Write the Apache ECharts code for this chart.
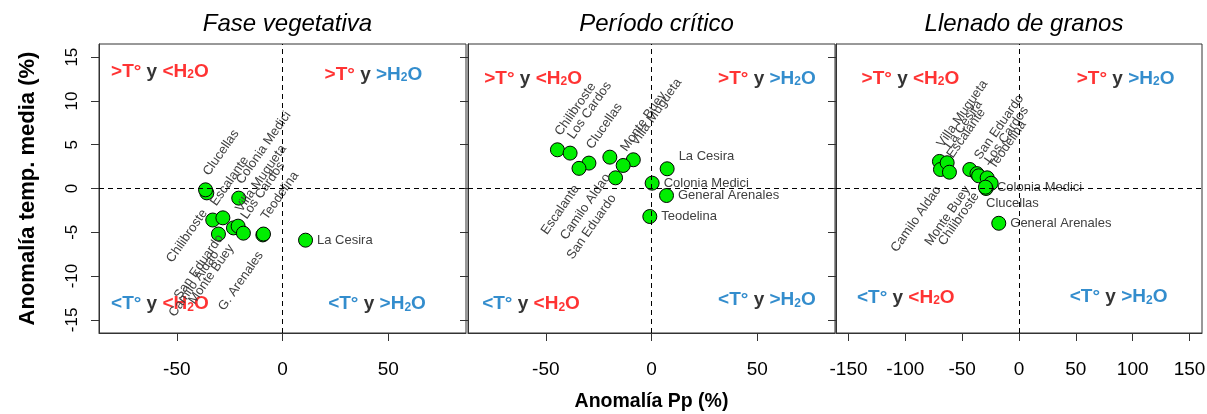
<!DOCTYPE html>
<html><head><meta charset="utf-8">
<script src="https://cdn.jsdelivr.net/npm/echarts@6/dist/echarts.min.js"></script>
<style>html,body{margin:0;padding:0;background:#fff}#c{width:1207px;height:414px}</style>
</head><body><div id="c"></div>
<script>
// ---------- data ----------
const panelTitles = ['Fase vegetativa', 'Período crítico', 'Llenado de granos'];
const yTicks = [-15, -10, -5, 0, 5, 10, 15];
const xTicks1 = [-50, 0, 50];
const xTicks2 = [-50, 0, 50];
const xTicks3 = [-150, -100, -50, 0, 50, 100, 150];

// Fase vegetativa
const names1 = ['Chilibroste','Clucellas','Colonia Medici','Escalante','San Eduardo','Camilo Aldao','Monte Buey','Villa Mugueta','Los Cardos','G. Arenales','Teodelina','La Cesira'];
const pp1    = [-35.8, -36.4, -20.7, -33.0, -28.2, -30.3, -23.2, -21.0, -18.5, -9.3, -9.0, 10.9];
const temp1  = [-0.5, -0.15, -1.1, -3.6, -3.35, -5.2, -4.5, -4.3, -5.1, -5.3, -5.2, -5.9];
const dir1   = ['down','up','up','up','down','down','down','up','up','down','up','right'];

// Período crítico
const names2 = ['Chilibroste','Los Cardos','Clucellas','Escalante','Camilo Aldao','Villa Mugueta','Monte Buey','San Eduardo','Colonia Medici','La Cesira','General Arenales','Teodelina'];
const pp2    = [-44.5, -38.5, -29.6, -34.3, -19.7, -8.6, -13.4, -17.0, 0.3, 7.4, 7.1, -0.8];
const temp2  = [4.42, 4.04, 2.9, 2.3, 3.58, 3.28, 2.63, 1.22, 0.61, 2.25, -0.8, -3.2];
const dir2   = ['up','up','up','down','down','up','up','down','right','rightUp','right','right'];

// Llenado de granos
const names3 = ['Villa Mugueta','Camilo Aldao','La Cesira','Escalante','Monte Buey','San Eduardo','Chilibroste','Los Cardos','Teodelina','Clucellas','Colonia Medici','General Arenales'];
const pp3    = [-70.0, -69.1, -63.2, -61.2, -43.3, -37.0, -35.5, -28.0, -24.5, -29.0, -29.5, -17.8];
const temp3  = [3.09, 2.17, 2.94, 1.86, 2.17, 1.7, 1.45, 1.22, 0.6, 0.0, 0.15, -3.97];
const dir3   = ['up','down','up','up','down','up','down','up','up','below','right','right'];

// quadrant annotations (TL, TR, BL, BR) in data coordinates
const quadText = [
  '{r|>T°} {k|y} {r|<H}{rs|2}{r|O}',
  '{r|>T°} {k|y} {b|>H}{bs|2}{b|O}',
  '{b|<T°} {k|y} {r|<H}{rs|2}{r|O}',
  '{b|<T°} {k|y} {b|>H}{bs|2}{b|O}'
];
const quadPos1 = [[-58, 13.4], [43, 13.1], [-58, -13.1], [44.7, -13.1]];
const quadPos2 = [[-56, 12.6], [54.6, 12.6], [-57, -13.1], [54.6, -12.7]];
const quadPos3 = [[-95.5, 12.6], [93.8, 12.6], [-99.6, -12.4], [87.6, -12.3]];

// ---------- layout / style ----------
const F = '"Liberation Sans", Arial, sans-serif';
const grids = [
  {left: 99, top: 44, width: 367, height: 289},
  {left: 468, top: 44, width: 367, height: 289},
  {left: 836, top: 44, width: 366, height: 289}
];
const xRange = [86.8, 86.8, 161];
const yRange = 16.5;
const panels = [
  {names: names1, pp: pp1, temp: temp1, dir: dir1, ticks: xTicks1, quad: quadPos1},
  {names: names2, pp: pp2, temp: temp2, dir: dir2, ticks: xTicks2, quad: quadPos2},
  {names: names3, pp: pp3, temp: temp3, dir: dir3, ticks: xTicks3, quad: quadPos3}
];

function labelFor(d) {
  const base = {show: true, formatter: '{b}', color: '#404040', fontSize: 13, fontFamily: F};
  if (d === 'up') return Object.assign(base, {position: 'inside', align: 'left', verticalAlign: 'bottom', rotate: 55, padding: [0, 0, 2, 13]});
  if (d === 'down') return Object.assign(base, {position: 'inside', align: 'right', verticalAlign: 'top', rotate: 55, padding: [2, 16, 0, 0]});
  if (d === 'rightUp') return Object.assign(base, {position: 'right', distance: 4, offset: [0, -12]});
  if (d === 'below') return Object.assign(base, {position: 'bottom', align: 'left', distance: 1});
  return Object.assign(base, {position: 'right', distance: 4});
}

const qs = 19;
const rich = {
  r: {color: '#ff0000', fontWeight: 'bold', fontSize: qs, fontFamily: F, lineHeight: 20, verticalAlign: 'bottom'},
  b: {color: '#0070c0', fontWeight: 'bold', fontSize: qs, fontFamily: F, lineHeight: 20, verticalAlign: 'bottom'},
  k: {color: '#000000', fontWeight: 'bold', fontSize: qs, fontFamily: F, lineHeight: 20, verticalAlign: 'bottom'},
  rs: {color: '#ff0000', fontWeight: 'bold', fontSize: 12, fontFamily: F, lineHeight: 5, verticalAlign: 'bottom'},
  bs: {color: '#0070c0', fontWeight: 'bold', fontSize: 12, fontFamily: F, lineHeight: 5, verticalAlign: 'bottom'}
};

const xAxes = [], yAxes = [], series = [], titles = [];
panels.forEach((p, i) => {
  const g = grids[i];
  titles.push({
    text: panelTitles[i], left: g.left + g.width / 2, top: 7, textAlign: 'center',
    textStyle: {fontStyle: 'italic', fontWeight: 'normal', fontSize: 24, color: '#000', fontFamily: F}
  });
  xAxes.push({
    gridIndex: i, type: 'value', min: -xRange[i], max: xRange[i],
    axisLine: {show: true, onZero: false, lineStyle: {color: '#333', width: 1}},
    axisTick: {show: true, inside: false, length: 8, customValues: p.ticks, lineStyle: {color: '#333'}},
    axisLabel: {customValues: p.ticks, margin: 27, fontSize: 19, color: '#000', fontFamily: F},
    splitLine: {show: false},
    name: i === 1 ? 'Anomalía Pp (%)' : '', nameLocation: 'middle', nameGap: 59,
    nameTextStyle: {fontWeight: 'bold', fontSize: 19.5, color: '#000', fontFamily: F}
  });
  yAxes.push({
    gridIndex: i, type: 'value', min: -yRange, max: yRange,
    axisLine: {show: true, onZero: false, lineStyle: {color: '#333', width: 1}},
    axisTick: {show: true, inside: false, length: 8, customValues: yTicks, lineStyle: {color: '#333'}},
    axisLabel: {show: i === 0, customValues: yTicks, rotate: 90, margin: 18, fontSize: 17, color: '#000', fontFamily: F},
    splitLine: {show: false},
    name: i === 0 ? 'Anomalía temp. media (%)' : '', nameLocation: 'middle', nameGap: 60, nameRotate: 90,
    nameTextStyle: {fontWeight: 'bold', fontSize: 22, color: '#000', fontFamily: F}
  });
  series.push({
    type: 'scatter', xAxisIndex: i, yAxisIndex: i, silent: true,
    symbolSize: 0, z: 1,
    data: p.quad.map((q, k) => ({value: q, label: {show: true, position: 'inside', formatter: quadText[k], rich: rich, fontSize: qs, fontWeight: 'bold', fontFamily: F}})),
    markLine: {
      silent: true, symbol: 'none', label: {show: false},
      lineStyle: {type: [5, 4], color: '#000', width: 1},
      data: [{xAxis: 0}, {yAxis: 0}]
    }
  });
  series.push({
    type: 'scatter', xAxisIndex: i, yAxisIndex: i, silent: true, z: 3,
    symbol: 'circle', symbolSize: 14,
    itemStyle: {color: '#00ee00', borderColor: '#000', borderWidth: 1, opacity: 1},
    data: p.names.map((n, k) => ({name: n, value: [p.pp[k], p.temp[k]], label: labelFor(p.dir[k])}))
  });
});

const chart = echarts.init(document.getElementById('c'), null, {renderer: 'canvas'});
chart.setOption({
  animation: false,
  backgroundColor: '#fff',
  title: titles,
  grid: grids.map(g => Object.assign({show: true, borderColor: '#333', borderWidth: 1, backgroundColor: 'transparent', containLabel: false, outerBoundsMode: 'none'}, g)),
  xAxis: xAxes,
  yAxis: yAxes,
  series: series
});
</script>
</body></html>
